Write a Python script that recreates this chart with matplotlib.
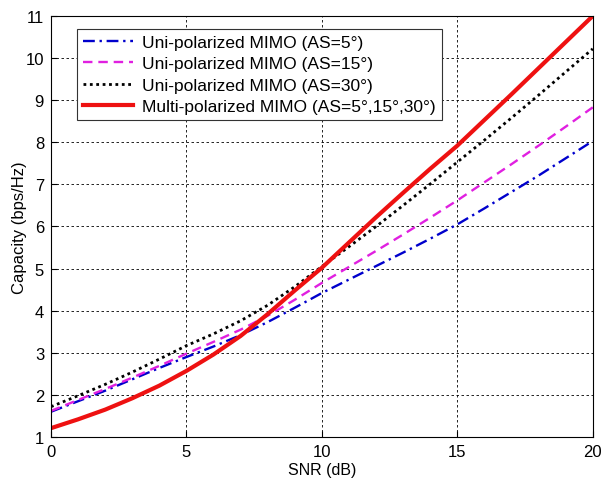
import matplotlib
matplotlib.use('Agg')
import matplotlib.pyplot as plt

plt.rcParams['font.family'] = ['Liberation Sans', 'DejaVu Sans']

snr = list(range(0, 21))
uni_as5 = [1.60, 1.85, 2.10, 2.37, 2.64, 2.90, 3.15, 3.42, 3.73, 4.07, 4.42,
           4.74, 5.06, 5.38, 5.71, 6.05, 6.43, 6.82, 7.21, 7.62, 8.03]
uni_as15 = [1.62, 1.88, 2.14, 2.41, 2.69, 2.98, 3.26, 3.55, 3.88, 4.26, 4.66,
            5.04, 5.42, 5.81, 6.21, 6.62, 7.05, 7.48, 7.92, 8.37, 8.83]
uni_as30 = [1.72, 1.98, 2.25, 2.54, 2.85, 3.17, 3.45, 3.76, 4.13, 4.57, 5.05,
            5.52, 6.00, 6.50, 7.01, 7.53, 8.05, 8.58, 9.12, 9.67, 10.22]
multi = [1.21, 1.42, 1.65, 1.92, 2.22, 2.57, 2.96, 3.40, 3.92, 4.48, 5.02,
         5.62, 6.22, 6.80, 7.37, 7.92, 8.53, 9.14, 9.76, 10.38, 11.00]

labels = ['Uni-polarized MIMO (AS=5°)', 'Uni-polarized MIMO (AS=15°)',
          'Uni-polarized MIMO (AS=30°)', 'Multi-polarized MIMO (AS=5°,15°,30°)']

fig = plt.figure(figsize=(6.03, 4.81), dpi=100)
ax = fig.add_axes([0.0846, 0.0894, 0.8984, 0.8753])

ax.plot(snr, uni_as5, color='#0000cc', linestyle=(0, (5, 2, 1, 2)), linewidth=1.7, label=labels[0])
ax.plot(snr, uni_as15, color='#e020e0', linestyle=(0, (4, 2.5)), linewidth=1.7, label=labels[1])
ax.plot(snr, uni_as30, color='black', linestyle=(0, (1, 1.3)), linewidth=2.0, label=labels[2])
ax.plot(snr, multi, color='#ee1111', linestyle='-', linewidth=3.0, label=labels[3])

ax.set_xlim(0, 20)
ax.set_ylim(1, 11)
ax.set_xticks([0, 5, 10, 15, 20])
ax.set_yticks(range(1, 12))
ax.tick_params(direction='in', labelsize=12, length=4, pad=5)
ax.grid(True, color='black', linestyle=(0, (3, 3)), linewidth=0.6)
ax.set_xlabel('SNR (dB)', fontsize=11.5, labelpad=2)
ax.set_ylabel('Capacity (bps/Hz)', fontsize=12, labelpad=-1)

leg = ax.legend(loc='upper left', bbox_to_anchor=(0.048, 0.969), fontsize=12.5,
                fancybox=False, framealpha=1, edgecolor='#333333',
                handlelength=2.9, handletextpad=0.5, borderpad=0.35,
                labelspacing=0.35, borderaxespad=0)
leg.get_frame().set_linewidth(0.8)

fig.savefig('out.png', dpi=100)
